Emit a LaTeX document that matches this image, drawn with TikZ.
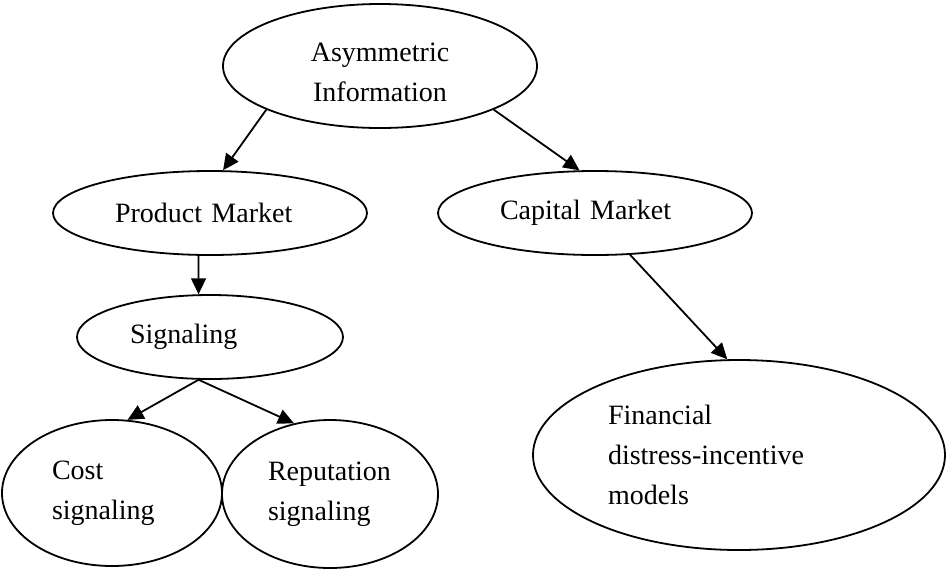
\documentclass[tikz,border=0pt]{standalone}
\usepackage{fontspec}
\setmainfont{Liberation Serif}
\usetikzlibrary{arrows.meta}
\usetikzlibrary{shapes.geometric}
\usetikzlibrary{positioning}

\begin{document}
\begin{tikzpicture}[x=1pt,y=-1pt,
    bubble/.style={draw,ellipse,line width=1.8pt,inner sep=0pt,
      font=\fontsize{28}{40}\selectfont},
    link/.style={line width=1.8pt,-{Triangle[length=16pt,width=15pt]}}]
  \useasboundingbox (0,0) rectangle (947,571);
  \node[bubble,minimum width=314pt,minimum height=124pt,align=center]
    (asym) at (380,66) {\rule{0pt}{32pt}Asymmetric\\Information};
  \node[bubble,minimum width=314pt,minimum height=84pt,text width=190pt,align=left]
    (prod) at (210,213) {Product Market};
  \node[bubble,minimum width=314pt,minimum height=84pt,text width=190pt,align=left]
    (cap) at (595,213) {Capital Market};
  \node[bubble,minimum width=266pt,minimum height=84pt,text width=160pt,align=left]
    (sig) at (210,337) {Signaling};
  \node[bubble,minimum width=220pt,minimum height=146pt,text width=120pt,align=left]
    (cost) at (112,493) {Cost\\signaling};
  \node[bubble,minimum width=216pt,minimum height=148pt,text width=124pt,align=left]
    (rep) at (330,494) {Reputation\\signaling};
  \node[bubble,minimum width=412pt,minimum height=190pt,text width=262pt,align=left]
    (fin) at (739,455) {Financial\\distress-incentive\\models};
  \draw[link] (asym.201) -- (prod.73);
  \draw[link] (asym.-21) -- (cap.110);
  \draw[link] (prod.-105) -- (sig.105);
  \draw[link] (sig.-105) -- (cost.78);
  \draw[link] (sig.-105) -- (rep.117);
  \draw[link] (cap.-50) -- (fin.97);
\end{tikzpicture}
\end{document}
